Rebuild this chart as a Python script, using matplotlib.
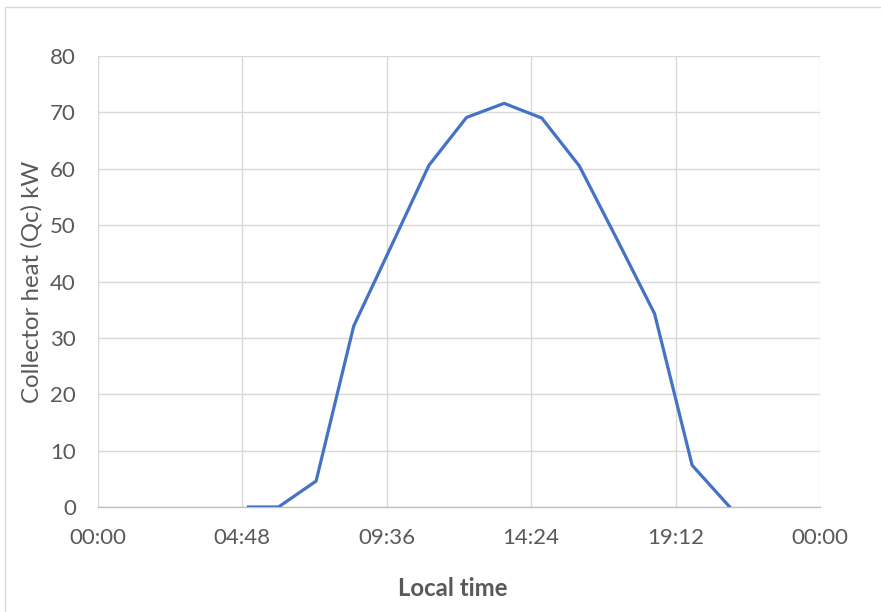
import matplotlib
matplotlib.use("Agg")
import matplotlib.pyplot as plt
from matplotlib.patches import Rectangle

# Hourly collector output over one day
local_time = ["05:00", "06:00", "07:15", "08:30", "09:45", "11:00", "12:15",
              "13:30", "14:45", "16:00", "17:15", "18:30", "19:45", "21:00"]
collector_heat_kw = [0, 0, 4.6, 32.1, 46.3, 60.6, 69.1,
                     71.6, 69.0, 60.5, 47.5, 34.3, 7.4, 0]
x_tick_labels = ["00:00", "04:48", "09:36", "14:24", "19:12", "00:00"]
y_ticks = [0, 10, 20, 30, 40, 50, 60, 70, 80]


def to_hours(s):
    h, m = s.split(":")
    return int(h) + int(m) / 60.0


hours = [to_hours(t) for t in local_time]

plt.rcParams["font.family"] = ["Lato", "DejaVu Sans"]
text_color = "#595959"
grid_color = "#D9D9D9"

fig = plt.figure(figsize=(8.81, 6.12), dpi=100)
W, H = 881, 612
ax = fig.add_axes([98 / W, 1 - 507 / H, (820 - 98) / W, (507 - 56) / H])

# Outer chart border
fig.patches.append(Rectangle((5 / W, -0.1), 1.2, 1 - 7 / H + 0.1,
                             transform=fig.transFigure, fill=False,
                             edgecolor="#D9D9D9", linewidth=1.0))

ax.plot(hours, collector_heat_kw, color="#4472C4", linewidth=2.3,
        solid_joinstyle="round", zorder=3)

ax.set_xlim(0, 24)
ax.set_ylim(0, 80)
xt = [i * 4.8 for i in range(6)]
ax.set_xticks(xt)
ax.set_xticklabels(x_tick_labels)
ax.set_yticks(y_ticks)
ax.grid(True, color=grid_color, linewidth=1.0)
ax.set_axisbelow(True)

for side in ["top", "right", "left"]:
    ax.spines[side].set_visible(False)
ax.spines["bottom"].set_color("#BFBFBF")
ax.spines["bottom"].set_linewidth(1.0)
ax.tick_params(length=0, labelsize=16, colors=text_color)
ax.tick_params(axis="x", pad=15)
ax.tick_params(axis="y", pad=16)

ax.set_xlabel("Local time", fontsize=17.3, fontweight="bold",
              color=text_color)
ax.xaxis.set_label_coords((453 - 98) / 722, -(588 - 507) / 451, transform=ax.transAxes)
ax.xaxis.label.set_verticalalignment("center")
ax.set_ylabel("Collector heat (Qc) kW", fontsize=17.3, color=text_color,
              labelpad=5)

fig.savefig("out.png", dpi=100)
